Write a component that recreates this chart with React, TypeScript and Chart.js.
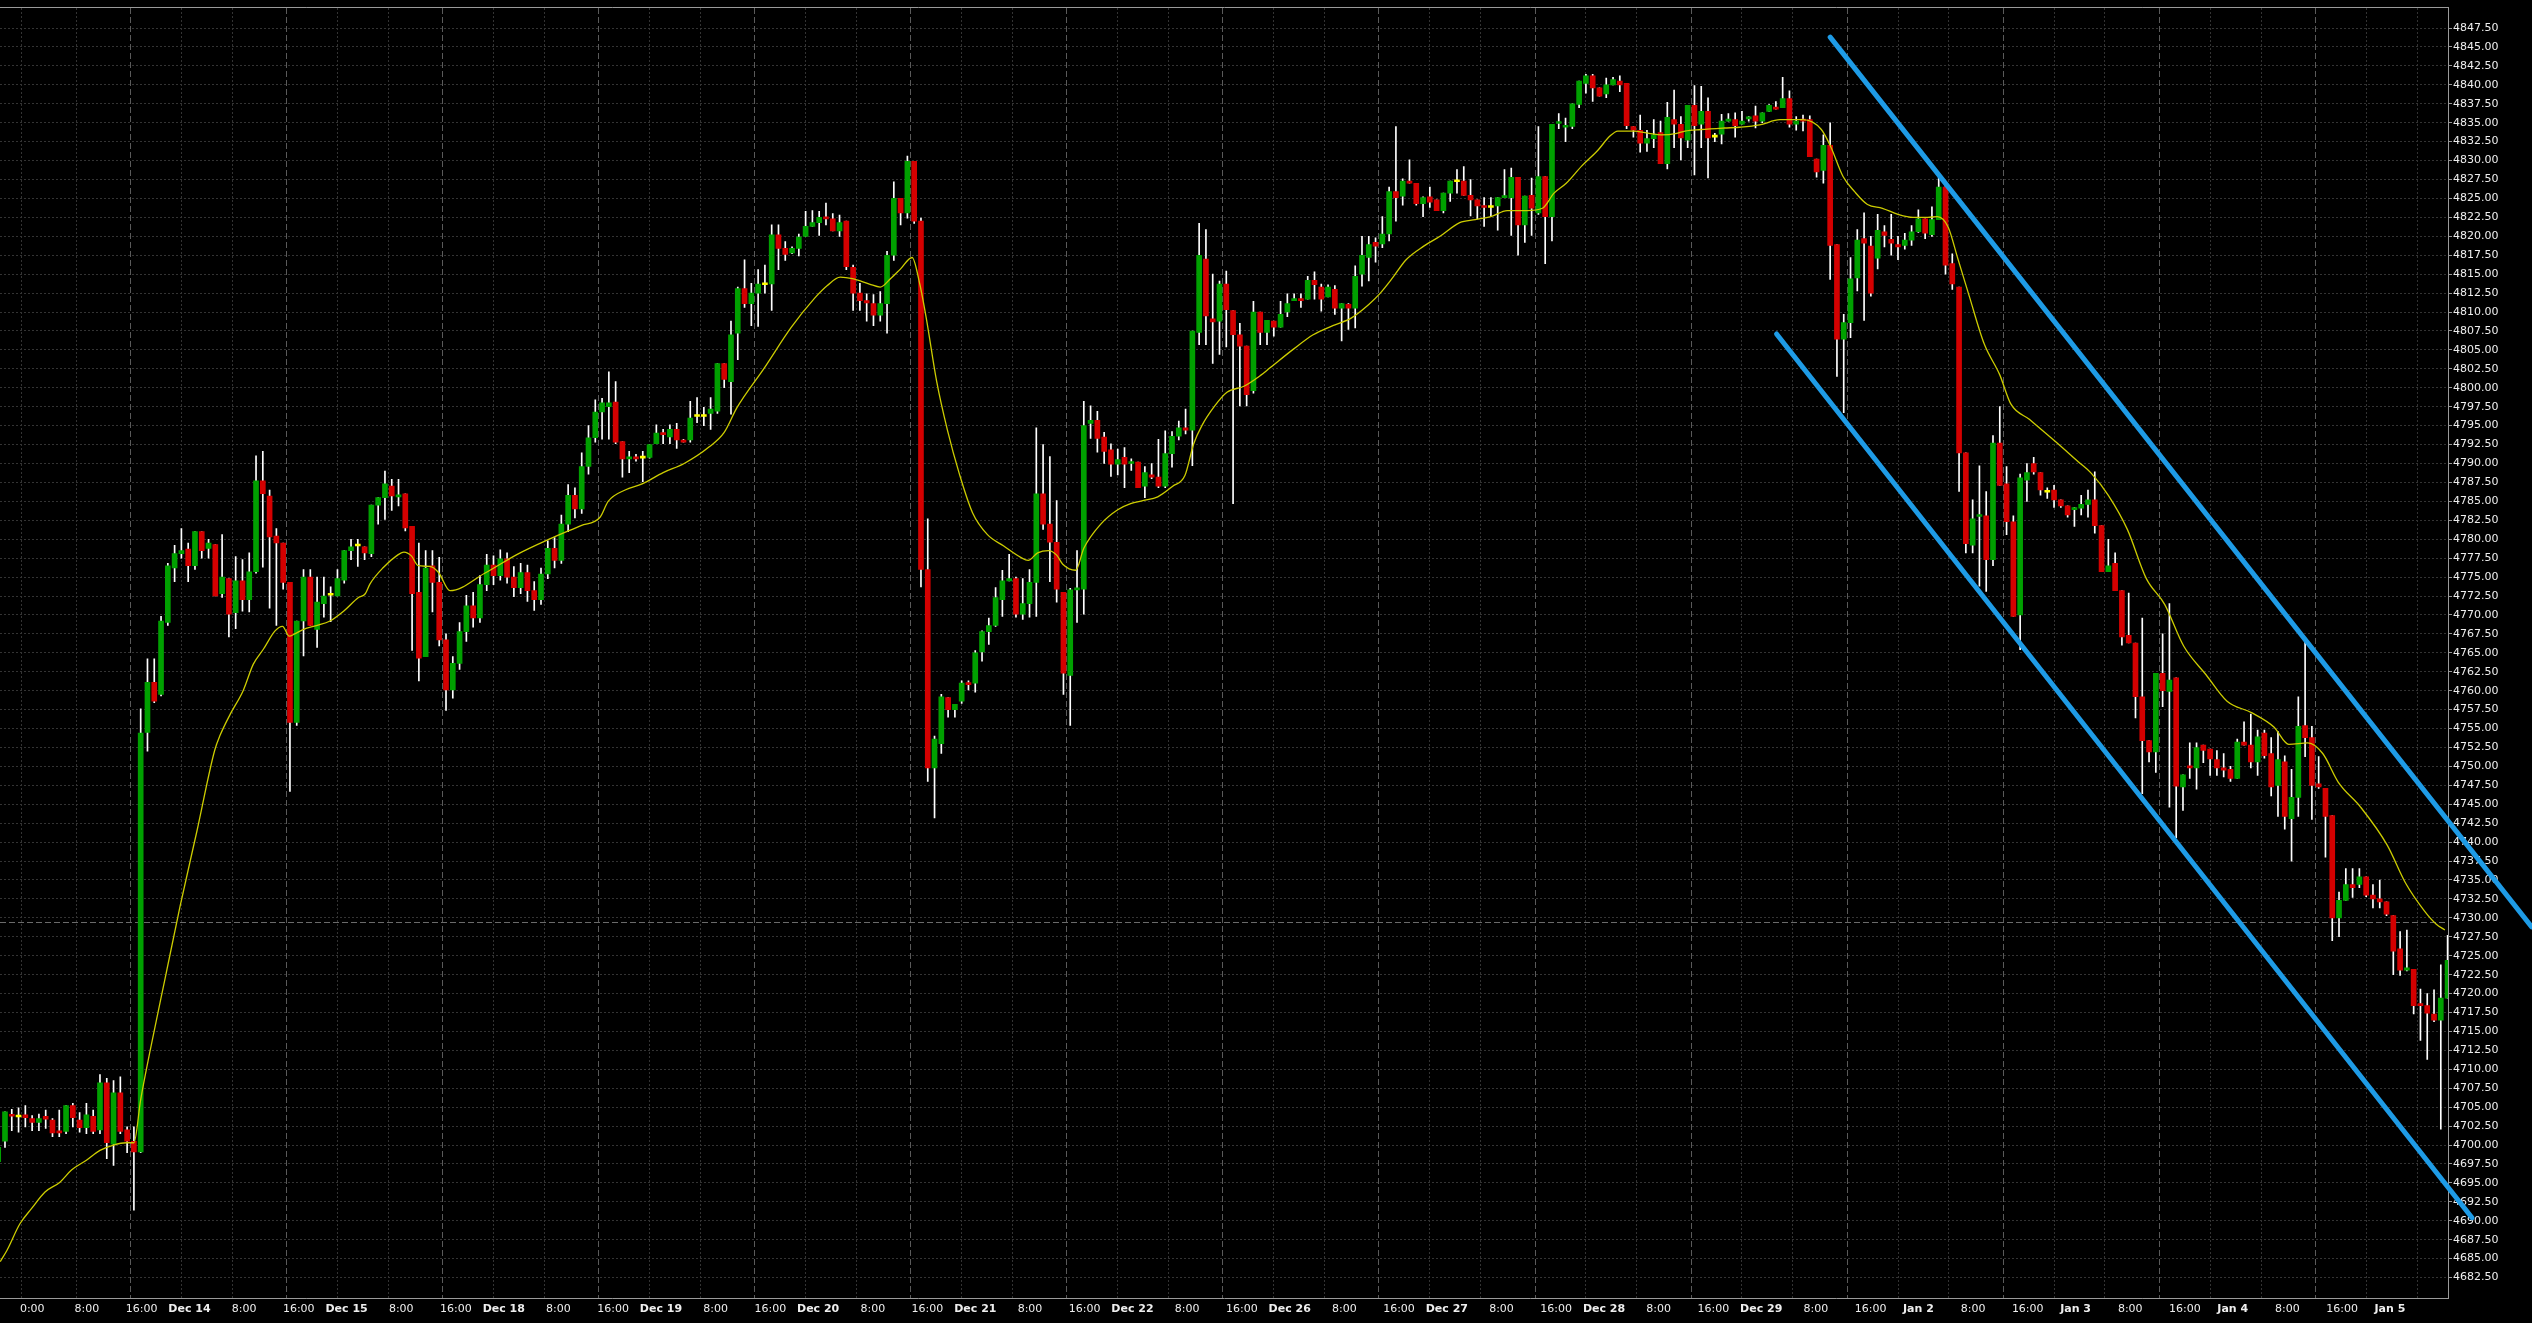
import React, { useEffect, useRef } from "react";
import { Chart, registerables } from "chart.js";
Chart.register(...registerables);

// ---- hourly OHLC bars (index 0..361) ----
const opens = [
  4697.8, 4700.5, 4704.0, 4703.7, 4704.0, 4703.5, 4703.0, 4703.8, 4703.3, 4701.8,
  4701.8, 4705.2, 4703.3, 4702.3, 4703.8, 4702.0, 4708.2, 4700.1, 4706.9, 4702.0,
  4700.5, 4699.1, 4754.5, 4761.1, 4759.5, 4769.0, 4776.2, 4778.1, 4778.7, 4776.5,
  4781.0, 4778.8, 4779.3, 4772.8, 4774.8, 4770.3, 4774.5, 4772.0, 4775.7, 4787.7,
  4785.7, 4780.4, 4779.5, 4774.3, 4755.8, 4769.2, 4775.0, 4768.1, 4771.5, 4772.6,
  4772.5, 4774.6, 4778.5, 4779.1, 4779.0, 4778.1, 4784.5, 4785.5, 4787.0, 4785.6,
  4786.0, 4781.7, 4773.0, 4764.5, 4776.5, 4774.3, 4766.7, 4760.1, 4763.6, 4767.8,
  4771.2, 4769.6, 4774.0, 4776.6, 4775.2, 4777.4, 4775.0, 4773.6, 4775.6, 4773.2,
  4772.0, 4775.4, 4778.8, 4777.2, 4782.0, 4785.8, 4784.0, 4789.6, 4793.4, 4796.8,
  4797.5, 4798.1, 4792.9, 4790.6, 4790.8, 4790.7, 4790.8, 4792.6, 4794.0, 4793.5,
  4794.5, 4793.1, 4793.1, 4796.2, 4796.2, 4796.6, 4796.9, 4803.2, 4800.8, 4807.2,
  4813.1, 4811.1, 4812.5, 4813.6, 4813.7, 4820.2, 4818.4, 4817.8, 4818.4, 4820.0,
  4821.3, 4821.8, 4822.5, 4822.3, 4820.7, 4822.0, 4815.9, 4812.5, 4811.5, 4811.1,
  4809.6, 4811.1, 4817.5, 4825.0, 4823.1, 4829.9, 4822.0, 4776.0, 4749.8, 4753.0,
  4759.1, 4757.5, 4758.6, 4761.0, 4761.0, 4765.1, 4767.8, 4768.6, 4772.0, 4774.5,
  4774.8, 4770.1, 4771.5, 4774.3, 4786.0, 4782.0, 4779.6, 4773.0, 4762.0, 4773.3,
  4773.4, 4795.3, 4795.7, 4793.5, 4791.8, 4789.9, 4790.8, 4790.0, 4790.2, 4787.0,
  4788.5, 4788.2, 4787.0, 4791.3, 4793.6, 4794.7, 4794.4, 4807.3, 4817.0, 4809.1,
  4808.8, 4813.7, 4810.2, 4807.0, 4805.5, 4799.6, 4810.0, 4807.3, 4808.8, 4808.0,
  4810.0, 4811.5, 4811.7, 4811.7, 4814.2, 4813.3, 4812.0, 4813.0, 4810.5, 4811.0,
  4810.5, 4815.0, 4817.2, 4819.2, 4819.0, 4820.3, 4825.9, 4825.3, 4827.3, 4827.0,
  4824.3, 4825.2, 4824.8, 4823.4, 4825.7, 4827.2, 4827.3, 4825.4, 4824.8, 4824.0,
  4823.8, 4824.0, 4825.1, 4825.1, 4827.8, 4821.5, 4825.4, 4823.1, 4827.9, 4822.6,
  4834.9, 4834.4, 4834.5, 4837.4, 4840.2, 4841.2, 4839.6, 4838.8, 4840.0, 4840.5,
  4840.2, 4834.5, 4834.0, 4832.3, 4832.9, 4833.7, 4829.6, 4835.4, 4834.8, 4832.7,
  4837.3, 4834.8, 4836.5, 4833.1, 4833.5, 4835.2, 4835.4, 4834.8, 4835.5, 4835.9,
  4835.2, 4836.5, 4837.0, 4837.0, 4838.2, 4834.8, 4835.4, 4835.4, 4830.2, 4828.7,
  4832.0, 4818.9, 4806.4, 4808.6, 4814.5, 4819.7, 4818.7, 4817.1, 4820.6, 4819.6,
  4818.9, 4818.8, 4819.5, 4820.6, 4822.3, 4820.2, 4822.2, 4826.5, 4816.4, 4813.3,
  4791.4, 4779.2, 4783.0, 4783.1, 4777.3, 4792.7, 4787.3, 4782.3, 4770.0, 4787.8,
  4790.0, 4788.8, 4786.2, 4786.5, 4785.2, 4784.4, 4783.9, 4784.1, 4784.6, 4785.2,
  4781.8, 4775.7, 4776.8, 4773.2, 4767.3, 4766.3, 4759.2, 4753.4, 4751.9, 4762.3,
  4759.9, 4761.7, 4747.3, 4750.0, 4749.8, 4752.8, 4752.3, 4750.9, 4749.8, 4749.6,
  4748.4, 4753.2, 4752.8, 4750.6, 4754.4, 4751.7, 4747.5, 4750.6, 4743.1, 4745.9,
  4755.4, 4753.8, 4747.7, 4747.1, 4743.5, 4730.0, 4732.3, 4734.4, 4734.4, 4735.4,
  4733.0, 4732.5, 4732.1, 4730.3, 4725.9, 4723.1, 4723.2, 4718.6, 4718.4, 4717.3,
  4716.5, 4719.4,
];
const highs = [
  4700.0, 4704.4, 4704.7, 4704.9, 4705.2, 4703.9, 4704.1, 4704.6, 4703.5, 4704.6,
  4705.2, 4705.5, 4704.3, 4705.5, 4704.6, 4709.3, 4708.8, 4708.5, 4709.0, 4702.4,
  4702.4, 4757.6, 4764.2, 4764.2, 4769.8, 4776.8, 4779.2, 4781.4, 4779.5, 4781.0,
  4781.0, 4780.0, 4779.3, 4780.6, 4774.8, 4777.7, 4777.3, 4778.2, 4791.0, 4791.6,
  4786.5, 4781.4, 4779.5, 4774.3, 4769.2, 4776.0, 4776.0, 4775.0, 4775.0, 4773.7,
  4776.0, 4778.5, 4780.0, 4780.0, 4779.0, 4784.5, 4785.5, 4789.0, 4787.9, 4787.9,
  4786.0, 4781.7, 4779.5, 4778.5, 4778.5, 4777.6, 4767.5, 4764.5, 4769.0, 4772.6,
  4773.0, 4775.2, 4778.0, 4777.8, 4778.6, 4778.2, 4776.4, 4776.8, 4776.6, 4774.4,
  4776.2, 4779.8, 4780.2, 4783.2, 4787.2, 4786.8, 4791.4, 4795.0, 4798.4, 4798.6,
  4802.1, 4800.8, 4792.9, 4791.6, 4791.2, 4791.6, 4792.5, 4795.1, 4794.5, 4795.1,
  4795.3, 4793.2, 4798.2, 4798.7, 4797.4, 4798.7, 4803.2, 4803.2, 4808.8, 4813.3,
  4816.9, 4813.8, 4815.6, 4816.2, 4821.5, 4821.5, 4819.3, 4818.6, 4820.3, 4823.3,
  4823.4, 4823.3, 4824.4, 4823.0, 4822.8, 4822.0, 4816.2, 4813.8, 4812.4, 4812.3,
  4812.7, 4818.0, 4827.2, 4825.0, 4830.6, 4829.9, 4822.4, 4782.7, 4754.0, 4759.5,
  4759.1, 4758.2, 4761.3, 4761.3, 4765.3, 4767.9, 4769.6, 4773.6, 4775.9, 4778.0,
  4775.0, 4774.8, 4776.0, 4794.7, 4792.5, 4790.9, 4785.1, 4773.0, 4773.5, 4778.5,
  4798.2, 4797.6, 4796.9, 4794.1, 4792.6, 4791.9, 4792.1, 4790.6, 4790.2, 4789.6,
  4790.0, 4793.2, 4794.3, 4794.2, 4795.6, 4797.2, 4807.5, 4821.7, 4820.9, 4815.0,
  4814.1, 4815.4, 4810.2, 4808.5, 4805.5, 4811.4, 4810.0, 4808.9, 4808.8, 4811.4,
  4812.4, 4812.4, 4812.4, 4814.7, 4815.3, 4813.7, 4813.6, 4813.5, 4811.1, 4811.1,
  4816.1, 4820.0, 4820.0, 4819.8, 4822.6, 4826.5, 4834.5, 4827.6, 4830.1, 4827.0,
  4825.2, 4826.5, 4824.8, 4825.7, 4827.3, 4828.8, 4829.2, 4827.5, 4824.8, 4825.1,
  4825.1, 4825.1, 4828.8, 4829.0, 4827.8, 4825.3, 4827.7, 4834.5, 4827.9, 4834.8,
  4836.2, 4835.6, 4837.5, 4840.5, 4841.4, 4841.4, 4839.6, 4840.9, 4841.0, 4841.2,
  4840.2, 4834.5, 4836.0, 4834.0, 4835.4, 4835.2, 4837.7, 4839.3, 4835.8, 4837.3,
  4839.9, 4839.8, 4838.3, 4833.6, 4836.1, 4836.2, 4836.3, 4836.5, 4835.8, 4837.2,
  4836.3, 4837.4, 4837.8, 4841.0, 4839.2, 4835.8, 4836.0, 4835.9, 4830.2, 4833.4,
  4835.0, 4818.9, 4809.7, 4817.2, 4820.9, 4823.1, 4820.0, 4822.9, 4821.4, 4822.9,
  4820.0, 4820.4, 4821.4, 4823.5, 4822.3, 4823.9, 4827.9, 4826.8, 4817.7, 4813.3,
  4791.4, 4785.2, 4789.7, 4786.3, 4793.7, 4797.5, 4789.6, 4783.1, 4788.6, 4790.0,
  4790.8, 4788.8, 4786.8, 4787.1, 4785.2, 4784.4, 4784.2, 4785.8, 4786.5, 4788.9,
  4781.8, 4780.0, 4778.2, 4773.2, 4772.9, 4766.3, 4769.6, 4753.4, 4762.3, 4767.5,
  4771.5, 4761.7, 4748.9, 4753.1, 4753.1, 4752.8, 4752.3, 4752.1, 4751.7, 4750.0,
  4753.6, 4755.9, 4756.9, 4754.8, 4754.8, 4753.8, 4754.6, 4751.4, 4749.6, 4759.2,
  4766.4, 4755.3, 4751.3, 4747.1, 4743.5, 4733.4, 4736.5, 4736.5, 4736.5, 4735.4,
  4734.4, 4735.0, 4732.1, 4730.3, 4728.2, 4728.4, 4723.2, 4720.6, 4720.0, 4720.5,
  4723.8, 4727.7,
];
const lows = [
  4697.5, 4699.7, 4701.9, 4701.7, 4702.4, 4701.9, 4701.9, 4702.2, 4701.1, 4701.1,
  4701.5, 4702.4, 4701.7, 4701.5, 4701.5, 4701.5, 4698.2, 4697.3, 4701.5, 4699.0,
  4691.4, 4699.0, 4752.0, 4758.4, 4759.3, 4768.6, 4774.4, 4777.5, 4774.4, 4776.0,
  4777.5, 4777.5, 4772.5, 4772.3, 4767.1, 4768.2, 4770.5, 4770.4, 4775.5, 4776.3,
  4770.9, 4768.6, 4773.4, 4746.7, 4755.4, 4764.6, 4768.6, 4765.7, 4769.7, 4769.1,
  4772.5, 4774.2, 4777.3, 4776.4, 4777.3, 4777.7, 4782.0, 4782.6, 4783.8, 4784.4,
  4781.1, 4765.3, 4761.3, 4764.5, 4770.4, 4765.9, 4757.4, 4759.0, 4762.8, 4766.5,
  4768.4, 4769.0, 4773.2, 4774.0, 4774.6, 4774.2, 4772.4, 4772.8, 4771.8, 4770.6,
  4771.4, 4774.8, 4776.2, 4776.8, 4781.0, 4782.8, 4783.4, 4788.6, 4792.8, 4793.2,
  4793.2, 4792.6, 4788.2, 4788.8, 4790.3, 4787.6, 4790.7, 4792.6, 4792.6, 4792.6,
  4792.0, 4792.8, 4792.8, 4795.4, 4795.0, 4794.5, 4796.6, 4800.0, 4796.5, 4803.7,
  4810.6, 4808.2, 4808.1, 4812.5, 4810.2, 4815.6, 4816.8, 4817.7, 4817.4, 4820.0,
  4821.3, 4820.1, 4821.5, 4820.7, 4820.0, 4815.6, 4810.2, 4810.2, 4808.8, 4808.2,
  4808.8, 4807.2, 4816.8, 4821.5, 4822.4, 4821.7, 4773.7, 4748.0, 4743.2, 4751.7,
  4756.5, 4756.5, 4758.3, 4760.1, 4759.8, 4763.9, 4766.1, 4768.5, 4769.8, 4774.5,
  4769.7, 4769.4, 4769.7, 4769.8, 4781.3, 4774.4, 4771.7, 4759.5, 4755.4, 4769.0,
  4770.1, 4793.3, 4791.5, 4790.0, 4788.3, 4788.5, 4786.8, 4789.1, 4786.8, 4785.5,
  4788.0, 4786.8, 4786.8, 4789.5, 4793.1, 4793.9, 4789.7, 4805.7, 4805.7, 4803.2,
  4804.4, 4805.4, 4784.7, 4797.6, 4797.6, 4799.3, 4805.7, 4805.7, 4806.8, 4808.0,
  4809.4, 4811.5, 4810.6, 4811.7, 4811.7, 4810.1, 4812.0, 4809.7, 4806.2, 4807.7,
  4807.9, 4813.4, 4814.1, 4816.6, 4818.5, 4819.4, 4822.0, 4824.1, 4827.0, 4824.1,
  4822.6, 4823.8, 4823.4, 4823.1, 4824.6, 4825.7, 4825.4, 4822.7, 4822.3, 4821.3,
  4822.6, 4820.8, 4825.1, 4820.1, 4817.5, 4819.2, 4820.1, 4822.9, 4816.4, 4819.4,
  4834.2, 4832.5, 4834.2, 4837.0, 4838.9, 4837.8, 4838.5, 4838.3, 4840.0, 4839.1,
  4834.2, 4833.1, 4831.1, 4831.2, 4831.7, 4829.6, 4828.9, 4831.7, 4830.1, 4831.7,
  4828.1, 4831.7, 4827.7, 4832.5, 4832.2, 4835.2, 4833.1, 4834.8, 4835.2, 4834.3,
  4835.0, 4836.5, 4836.8, 4837.0, 4834.4, 4834.0, 4833.9, 4830.5, 4827.8, 4827.0,
  4814.3, 4801.5, 4796.7, 4806.6, 4812.8, 4808.9, 4812.1, 4815.7, 4818.6, 4817.5,
  4816.9, 4818.3, 4818.8, 4820.5, 4819.7, 4820.0, 4822.2, 4815.0, 4813.0, 4786.3,
  4778.2, 4778.2, 4773.8, 4773.1, 4776.5, 4787.1, 4780.6, 4769.8, 4765.4, 4785.0,
  4788.6, 4785.8, 4785.4, 4784.2, 4784.2, 4782.9, 4781.7, 4783.2, 4782.9, 4780.8,
  4775.7, 4775.7, 4773.2, 4766.0, 4766.3, 4756.4, 4746.4, 4750.6, 4749.2, 4757.9,
  4744.6, 4740.6, 4744.2, 4748.4, 4747.0, 4750.5, 4748.8, 4748.8, 4748.6, 4748.0,
  4748.4, 4752.8, 4749.8, 4748.8, 4751.1, 4746.1, 4743.4, 4741.7, 4737.5, 4743.4,
  4751.3, 4743.0, 4747.1, 4738.0, 4727.0, 4727.5, 4732.3, 4732.7, 4734.0, 4732.8,
  4731.3, 4731.3, 4730.3, 4722.5, 4722.4, 4723.0, 4717.3, 4713.8, 4711.3, 4716.3,
  4702.1, 4719.4,
];
const closes = [
  4699.7, 4704.4, 4703.8, 4703.7, 4703.6, 4703.0, 4703.5, 4703.4, 4701.6, 4701.6,
  4705.2, 4703.6, 4702.3, 4704.0, 4701.8, 4708.2, 4700.3, 4706.9, 4701.8, 4700.5,
  4699.1, 4754.4, 4761.1, 4758.6, 4769.2, 4776.5, 4778.1, 4778.5, 4776.5, 4781.0,
  4778.5, 4779.5, 4772.5, 4775.0, 4770.1, 4774.5, 4772.0, 4775.7, 4787.7, 4786.0,
  4780.3, 4779.5, 4774.3, 4755.8, 4769.2, 4775.0, 4768.6, 4771.7, 4772.5, 4772.6,
  4774.8, 4778.5, 4779.0, 4779.1, 4778.2, 4784.5, 4785.5, 4787.3, 4785.7, 4785.7,
  4781.5, 4772.8, 4764.3, 4776.2, 4774.3, 4766.7, 4760.1, 4763.6, 4767.8, 4771.2,
  4769.6, 4774.0, 4776.6, 4775.2, 4777.4, 4775.0, 4773.6, 4775.6, 4773.2, 4772.0,
  4775.4, 4778.8, 4777.2, 4782.0, 4785.8, 4784.0, 4789.6, 4793.4, 4796.8, 4798.0,
  4798.0, 4792.8, 4790.6, 4790.8, 4790.6, 4790.7, 4792.5, 4794.0, 4793.8, 4794.5,
  4793.1, 4792.8, 4796.0, 4796.2, 4796.2, 4797.2, 4803.2, 4801.1, 4807.0, 4813.1,
  4811.1, 4812.5, 4813.7, 4813.6, 4820.2, 4818.4, 4817.6, 4818.4, 4819.9, 4821.3,
  4821.8, 4822.5, 4822.3, 4820.7, 4821.8, 4816.0, 4812.5, 4811.5, 4811.2, 4809.6,
  4811.1, 4817.5, 4825.0, 4823.1, 4829.9, 4822.0, 4776.0, 4749.8, 4753.6, 4759.2,
  4757.5, 4758.2, 4761.0, 4760.8, 4765.0, 4767.8, 4768.6, 4772.3, 4774.5, 4774.8,
  4770.1, 4771.5, 4774.3, 4786.0, 4782.0, 4779.6, 4773.4, 4762.3, 4773.3, 4773.5,
  4795.0, 4795.7, 4793.3, 4791.6, 4789.9, 4790.5, 4789.9, 4790.2, 4786.8, 4788.8,
  4788.2, 4787.0, 4791.3, 4793.6, 4794.7, 4794.4, 4807.5, 4817.5, 4809.5, 4808.7,
  4813.7, 4810.3, 4807.0, 4805.5, 4799.1, 4810.0, 4807.3, 4808.9, 4808.0, 4809.7,
  4811.1, 4811.7, 4811.5, 4814.2, 4813.6, 4811.7, 4813.3, 4810.5, 4811.1, 4810.5,
  4814.7, 4817.5, 4818.9, 4818.7, 4820.3, 4825.9, 4825.1, 4827.3, 4827.0, 4824.3,
  4825.1, 4824.5, 4823.4, 4825.7, 4827.3, 4827.2, 4825.4, 4824.8, 4824.0, 4823.8,
  4823.8, 4825.1, 4825.3, 4827.8, 4821.5, 4825.3, 4823.7, 4827.9, 4822.6, 4834.8,
  4835.1, 4834.5, 4837.5, 4840.5, 4841.2, 4839.6, 4838.5, 4840.0, 4840.7, 4840.0,
  4834.6, 4834.0, 4832.3, 4832.9, 4833.4, 4829.6, 4835.7, 4834.8, 4833.0, 4837.3,
  4834.6, 4836.5, 4833.0, 4833.1, 4835.2, 4835.4, 4834.6, 4835.2, 4835.7, 4835.2,
  4836.3, 4837.3, 4836.8, 4838.2, 4834.8, 4835.2, 4835.2, 4830.5, 4828.5, 4832.0,
  4818.8, 4806.4, 4808.6, 4814.4, 4819.5, 4819.1, 4812.5, 4820.8, 4820.1, 4819.1,
  4818.6, 4819.5, 4820.6, 4822.3, 4820.4, 4822.2, 4826.5, 4816.2, 4813.7, 4791.4,
  4779.4, 4782.7, 4783.1, 4777.3, 4792.7, 4787.1, 4782.3, 4769.8, 4788.1, 4788.8,
  4788.9, 4786.5, 4786.2, 4785.2, 4784.4, 4783.2, 4784.1, 4784.6, 4785.2, 4781.8,
  4775.7, 4776.5, 4773.2, 4767.1, 4766.3, 4759.2, 4753.4, 4751.9, 4762.3, 4760.0,
  4761.4, 4747.4, 4748.9, 4749.8, 4752.5, 4752.1, 4751.0, 4749.8, 4749.5, 4748.4,
  4753.2, 4752.8, 4750.6, 4753.9, 4751.4, 4747.3, 4750.9, 4743.4, 4745.9, 4755.3,
  4753.8, 4747.5, 4747.3, 4743.4, 4730.0, 4732.3, 4734.4, 4734.0, 4735.4, 4733.0,
  4732.5, 4732.1, 4730.5, 4725.6, 4723.1, 4723.4, 4718.4, 4718.4, 4717.4, 4716.5,
  4719.4, 4724.4,
];

// ---- moving average (bar position, value) ----
const maBars = [
  0.3, 1.3, 3.2, 4.9, 6.9, 9.1, 10.8, 13.0, 15.0, 17.0, 18.9, 20.0, 21.0, 22.4, 24.6, 26.8, 29.3,
  31.9, 32.7, 34.2, 36.1, 37.6, 39.1, 40.8, 41.9, 42.9, 43.7, 45.0, 46.9, 48.9, 50.9, 53.1, 54.1,
  54.8, 56.8, 58.7, 59.8, 60.9, 61.9, 63.6, 64.9, 66.6, 71.7, 76.5, 81.2, 85.9, 88.7, 89.9, 92.4,
  94.9, 98.0, 101.1, 104.8, 107.0, 108.9, 112.9, 116.9, 120.3, 122.2, 124.1, 125.9, 128.4, 130.0,
  131.5, 133.0, 134.7, 135.8, 136.8, 138.3, 139.9, 141.7, 143.6, 145.8, 148.2, 150.7, 151.8, 153.2,
  154.8, 156.0, 156.9, 158.8, 160.0, 162.5, 165.0, 166.9, 168.7, 170.9, 173.1, 174.9, 176.2, 177.4,
  179.3, 181.1, 183.6, 186.0, 187.4, 190.9, 193.8, 196.7, 199.4, 202.0, 203.7, 205.5, 207.5, 210.1,
  212.5, 215.4, 217.7, 220.0, 222.4, 225.3, 227.6, 229.3, 231.1, 233.4, 235.8, 237.5, 238.7, 241.0,
  243.3, 245.1, 247.4, 248.6, 250.9, 254.4, 256.7, 259.6, 262.6, 266.0, 268.7, 270.1, 271.9, 273.6,
  275.5, 277.7, 280.0, 282.2, 284.4, 285.8, 287.4, 288.8, 290.5, 292.7, 295.0, 296.6, 299.4, 303.2,
  306.6, 308.5, 311.0, 313.8, 316.6, 319.3, 322.1, 325.4, 328.5, 332.1, 335.4, 337.6, 340.4, 342.6,
  344.9, 348.2, 352.1, 354.8, 357.6, 359.3, 360.6,
];
const maValues = [
  4684.6, 4686.1, 4689.6, 4691.6, 4693.8, 4695.1, 4696.7, 4698.0, 4699.3, 4700.0, 4700.3, 4700.3, 4706.0, 4712.5, 4722.0, 4731.5, 4741.5,
  4752.1, 4754.1, 4756.9, 4760.0, 4763.5, 4765.5, 4767.9, 4768.5, 4767.2, 4767.5, 4768.1, 4768.6, 4769.2, 4770.5, 4772.3, 4772.8,
  4774.1, 4776.3, 4777.8, 4778.3, 4777.8, 4776.5, 4776.4, 4775.6, 4773.2, 4775.5, 4778.0, 4780.0, 4781.8, 4782.9, 4785.0, 4786.5,
  4787.3, 4788.8, 4790.0, 4792.2, 4794.1, 4797.4, 4802.6, 4808.0, 4811.8, 4813.5, 4814.6, 4814.4, 4813.7, 4813.3,
  4814.4, 4815.7, 4817.2, 4813.8, 4809.1, 4800.9, 4794.4, 4788.5, 4783.5, 4780.6, 4779.1, 4777.6, 4777.2, 4778.2,
  4778.5, 4777.9, 4776.7, 4775.9, 4778.8, 4782.0, 4783.9, 4784.7, 4785.1, 4785.6, 4787.0, 4788.4, 4792.6, 4795.0,
  4797.6, 4799.4, 4800.2, 4801.6, 4802.6, 4805.1, 4807.0, 4808.2, 4809.2, 4811.0, 4812.5, 4814.5, 4816.9, 4818.7,
  4820.0, 4821.8, 4822.2, 4822.6, 4823.4, 4823.4, 4823.7, 4825.7, 4827.0, 4829.3, 4831.4, 4833.2, 4833.9, 4833.9,
  4833.6, 4833.4, 4833.6, 4833.9, 4834.1, 4834.3, 4834.4, 4834.7, 4835.4, 4835.4, 4834.1, 4831.8, 4827.9, 4825.9,
  4824.2, 4823.7, 4822.9, 4822.5, 4822.5, 4822.6, 4821.2, 4817.1, 4812.1, 4805.8, 4801.7, 4797.9, 4795.8, 4792.9,
  4790.2, 4788.7, 4785.8, 4781.3, 4774.8, 4771.4, 4765.9, 4762.1, 4758.6, 4757.1, 4755.2, 4752.9, 4753.1, 4751.7,
  4747.9, 4744.6, 4739.6, 4734.6, 4730.9, 4729.2, 4728.4,
];

// ---- hand-drawn channel lines (bar position, price) ----
const channelUpper = [[270.0, 4846.3], [373.4, 4728.8]];
const channelLower = [[262.1, 4807.1], [364.6, 4690.4]];
const referenceLevel = 4729.5;

// ---- axis labels ----
const xTickLabels = [
  "0:00", "8:00", "16:00",
  "Dec 14", "8:00", "16:00",
  "Dec 15", "8:00", "16:00",
  "Dec 18", "8:00", "16:00",
  "Dec 19", "8:00", "16:00",
  "Dec 20", "8:00", "16:00",
  "Dec 21", "8:00", "16:00",
  "Dec 22", "8:00", "16:00",
  "Dec 26", "8:00", "16:00",
  "Dec 27", "8:00", "16:00",
  "Dec 28", "8:00", "16:00",
  "Dec 29", "8:00", "16:00",
  "Jan 2", "8:00", "16:00",
  "Jan 3", "8:00", "16:00",
  "Jan 4", "8:00", "16:00",
  "Jan 5",
];
const yLabelLowest = 4682.5;
const yLabelHighest = 4847.5;

const FONT = '"DejaVu Sans", "Liberation Sans", sans-serif';
const GREEN = "#00a000";
const RED = "#d40000";
const DOJI = "#ffff00";
const BLUE = "#1e9be6";

export default function App() {
  const ref = useRef<HTMLCanvasElement>(null);

  useEffect(() => {
    document.body.style.margin = "0";
    document.body.style.background = "#000";
    document.body.style.overflow = "hidden";
    const canvas = ref.current;
    if (!canvas) return;

    const X_MIN = 0.265;
    const X_MAX = 361.06;
    const idx = opens.map((_, i) => i);
    // grid lines every session block: +8 bars, +8 bars, +7 bars
    const gridIdx: number[] = [];
    for (let k = 0; k < 47; k++) gridIdx.push(7.5 + 23 * Math.floor(k / 3) + [0, 8, 16][k % 3]);
    const labelIdx = xTickLabels.map((_, k) => 352.5 - (352.5 - gridIdx[k]) * 1.0072);

    const bgPlugin = {
      id: "bg",
      beforeDraw(chart: any) {
        const { ctx, width, height } = chart;
        ctx.save();
        ctx.fillStyle = "#000";
        ctx.fillRect(0, 0, width, height);
        ctx.restore();
      },
    };
    const refLinePlugin = {
      id: "refLine",
      beforeDatasetsDraw(chart: any) {
        const { ctx, chartArea } = chart;
        const y = Math.round(chart.scales.y.getPixelForValue(referenceLevel)) + 0.5;
        ctx.save();
        ctx.strokeStyle = "#6a6a6a";
        ctx.lineWidth = 1;
        ctx.setLineDash([6, 3]);
        ctx.beginPath();
        ctx.moveTo(chartArea.left, y);
        ctx.lineTo(chartArea.right, y);
        ctx.stroke();
        ctx.restore();
      },
    };

    const chart = new Chart(canvas, {
      type: "bar",
      data: {
        datasets: [
          {
            type: "line",
            label: "upper",
            data: channelUpper.map(([x, y]) => ({ x, y })),
            borderColor: BLUE,
            borderWidth: 5,
            borderCapStyle: "round",
            pointRadius: 0,
            clip: false,
            order: 0,
          } as any,
          {
            type: "line",
            label: "lower",
            data: channelLower.map(([x, y]) => ({ x, y })),
            borderColor: BLUE,
            borderWidth: 5,
            borderCapStyle: "round",
            pointRadius: 0,
            clip: false,
            order: 0,
          } as any,
          {
            type: "line",
            label: "ma",
            data: maBars.map((x, i) => ({ x, y: maValues[i] })),
            borderColor: "#cccc00",
            borderWidth: 1.3,
            pointRadius: 0,
            cubicInterpolationMode: "monotone",
            order: 1,
          } as any,
          {
            type: "bar",
            label: "body",
            data: idx.map((i) => ({ x: i, y: [opens[i], closes[i]] })),
            backgroundColor: idx.map((i) =>
              closes[i] > opens[i] ? GREEN : closes[i] < opens[i] ? RED : DOJI
            ),
            borderWidth: 0,
            barThickness: 5,
            minBarLength: 2,
            grouped: false,
            order: 2,
          } as any,
          {
            type: "bar",
            label: "wick",
            data: idx.map((i) => ({ x: i, y: [lows[i], highs[i]] })),
            backgroundColor: "#ffffff",
            borderWidth: 0,
            barThickness: 1,
            grouped: false,
            order: 3,
          } as any,
        ],
      },
      options: {
        animation: false,
        responsive: false,
        devicePixelRatio: 1,
        events: [],
        layout: { padding: { top: 6, left: 0, right: 0, bottom: 0 } },
        plugins: {
          legend: { display: false },
          tooltip: { enabled: false },
          title: { display: false },
        },
        scales: {
          x: {
            type: "linear",
            position: "bottom",
            min: X_MIN,
            max: X_MAX,
            offset: false,
            grid: { display: false, drawTicks: false },
            border: { display: true, color: "#9a9a9a", width: 1 },
            afterBuildTicks: (s: any) => {
              s.ticks = labelIdx.map((v) => ({ value: v }));
            },
            afterFit: (s: any) => {
              s.height = 25;
            },
            ticks: {
              autoSkip: false,
              maxRotation: 0,
              minRotation: 0,
              padding: 5,
              color: "#eeeeee",
              font: (c: any) => ({
                family: FONT,
                size: 11,
                weight: c.index % 3 === 0 && c.index > 0 ? "bold" : "normal",
              }),
              callback: (_v: any, i: number) => xTickLabels[i],
            },
          },
          xg: {
            type: "linear",
            position: "top",
            min: X_MIN,
            max: X_MAX,
            offset: false,
            afterBuildTicks: (s: any) => {
              s.ticks = gridIdx.map((v) => ({ value: v }));
            },
            afterFit: (s: any) => {
              s.height = 0;
            },
            ticks: { display: false },
            grid: {
              display: true,
              drawTicks: false,
              lineWidth: 1,
              color: (c: any) => (c.index % 3 === 2 ? "#5a5a5a" : "#333333"),
            },
            border: {
              display: true,
              color: "#9a9a9a",
              width: 1,
              dash: (c: any) => (c.index % 3 === 2 ? [6, 3] : [2, 2]),
            },
          },
          y: {
            type: "linear",
            position: "right",
            min: 4679.8,
            max: 4850.2,
            afterFit: (s: any) => {
              s.width = 84;
            },
            afterBuildTicks: (s: any) => {
              s.ticks = s.ticks.filter(
                (t: any) => t.value >= yLabelLowest - 0.01 && t.value <= yLabelHighest + 0.01
              );
            },
            ticks: {
              stepSize: 2.5,
              includeBounds: false,
              autoSkip: false,
              padding: 1,
              color: "#eeeeee",
              font: { family: FONT, size: 11 },
              callback: (v: any) => Number(v).toFixed(2),
            },
            grid: {
              display: true,
              drawTicks: true,
              tickLength: 4,
              tickColor: "#9a9a9a",
              color: "#333333",
              lineWidth: 1,
            },
            border: { display: true, color: "#9a9a9a", width: 1, dash: [2, 2] },
          },
        },
      } as any,
      plugins: [bgPlugin, refLinePlugin],
    } as any);

    return () => {
      chart.destroy();
    };
  }, []);

  return (
    <canvas
      ref={ref}
      width={2532}
      height={1323}
      style={{ display: "block", width: 2532, height: 1323 }}
    />
  );
}
